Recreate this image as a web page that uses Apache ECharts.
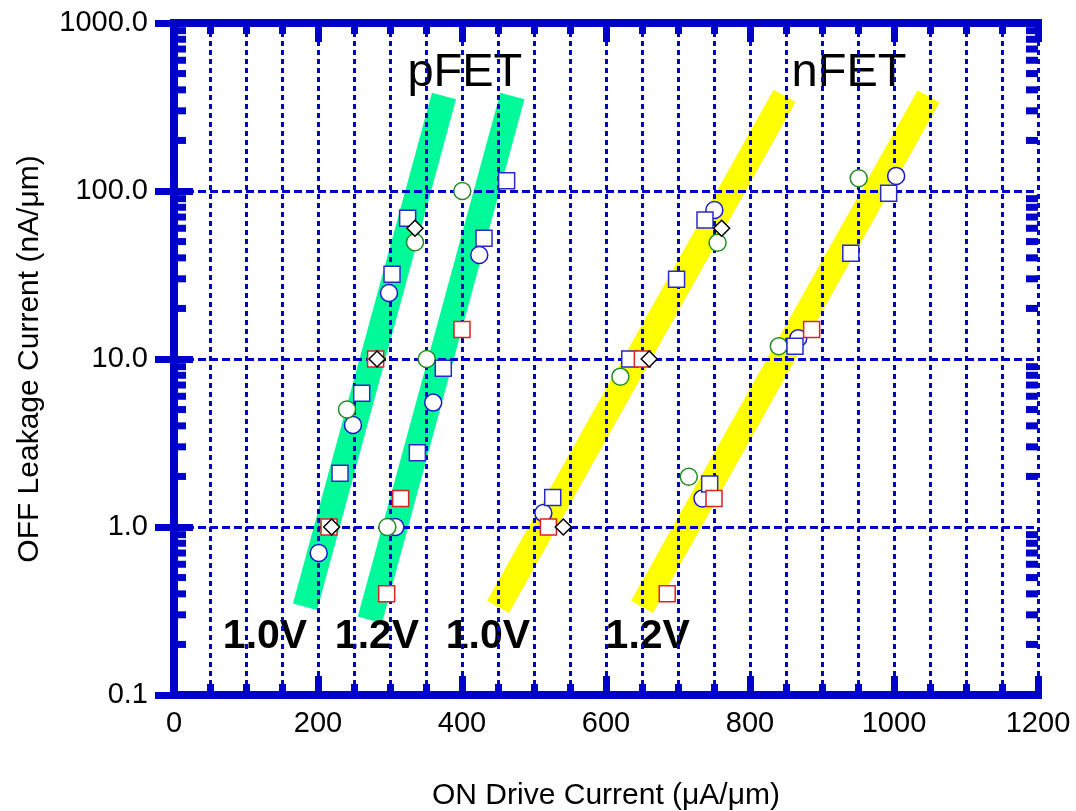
<!DOCTYPE html>
<html>
<head>
<meta charset="utf-8">
<script src="https://cdn.jsdelivr.net/npm/echarts@6/dist/echarts.min.js"></script>
<style>
  html, body { margin: 0; padding: 0; background: #ffffff; }
  #chart { width: 1076px; height: 811px; }
</style>
</head>
<body>
<div id="chart"></div>
<script>
// Axis ranges and tick labels
const xTicks = [0, 200, 400, 600, 800, 1000, 1200];
const yTicks = ['0.1', '1.0', '10.0', '100.0', '1000.0'];

// Measured devices: [ON drive current (uA/um), OFF leakage current (nA/um)]
const blueCircles = [
  [201, 0.70], [248.6, 4.05], [298.6, 24.7],
  [307.4, 1.0], [360, 5.5], [424, 41.6],
  [513, 1.21], [750.5, 77],
  [734, 1.48], [867, 13.3], [1003, 123]
];
const greenCircles = [
  [240.3, 5.0], [334.7, 49.5],
  [296.3, 1.0], [351, 10], [400.4, 100],
  [620, 7.85], [755, 49.2],
  [715, 1.99], [840, 11.9], [951, 119]
];
const blueSquares = [
  [230.6, 2.09], [260.7, 6.25], [302.8, 32], [324.5, 68.8],
  [338, 2.77], [374, 8.8], [430.6, 52.3], [462, 115],
  [526, 1.5], [633, 10], [698, 29.8], [737.5, 67.2],
  [744, 1.8], [862.5, 11.9], [940, 42.6], [992.6, 97]
];
const redSquares = [
  [215.3, 1.0], [280, 10],
  [295.4, 0.40], [314.8, 1.48], [400, 15],
  [520, 1.0], [650.5, 10],
  [685, 0.40], [750, 1.48], [885.6, 15]
];
const diamonds = [
  [219, 1.0], [282, 10], [334.7, 60],
  [540.7, 1.0], [660, 10], [760.6, 60]
];

// Trend bands (start and end of each band)
const pfet10Band = [[182, 0.335], [375, 368]];
const pfet12Band = [[272, 0.28], [470, 368]];
const nfet10Band = [[450, 0.335], [848, 368]];
const nfet12Band = [[650, 0.335], [1048, 366]];

// Annotation texts
const deviceLabels = ['pFET', 'nFET'];
const voltageLabels = ['1.0V', '1.2V', '1.0V', '1.2V'];

// Anchors of the annotations, in data units
const deviceAnchors = [[404, 504], [937.5, 504]];
const voltageAnchors = [[126.4, 0.221], [282, 0.221], [436, 0.221], [658, 0.221]];

const AXIS_BLUE = '#0000cc';
const FONT = '"Liberation Sans", Arial, Helvetica, sans-serif';

// Minor log ticks: 2..9 in every decade
const minorLogTicks = [];
for (let d = -1; d < 3; d++) {
  for (let k = 2; k <= 9; k++) minorLogTicks.push([0, k * Math.pow(10, d)]);
}

const gridDotted = { color: AXIS_BLUE, width: 3, type: [5, 4] };
const gridDashed = { color: AXIS_BLUE, width: 3, type: [8, 4] };
const axisLineStyle = { color: AXIS_BLUE, width: 8, cap: 'square' };

function bandSeries(data, color) {
  return {
    type: 'line', data: data, symbol: 'none', silent: true, z: 1,
    lineStyle: { color: color, width: 25, cap: 'butt', opacity: 1 }
  };
}

function markerSeries(data, symbol, size, color) {
  return {
    type: 'scatter', data: data, symbol: symbol, symbolSize: size, z: 5, silent: true,
    itemStyle: { color: '#ffffff', borderColor: color, borderWidth: 1.5, opacity: 1 }
  };
}

function textSeries(anchors, texts, fontSize, fontWeight) {
  return {
    type: 'scatter', symbolSize: 0, silent: true, z: 2,
    itemStyle: { opacity: 1 },
    data: anchors.map((a, i) => ({ value: a, name: texts[i] })),
    label: {
      show: true, position: 'inside', formatter: p => p.name, opacity: 1,
      color: '#000000', fontFamily: FONT, fontSize: fontSize, fontWeight: fontWeight
    }
  };
}

const chart = echarts.init(document.getElementById('chart'), null, { renderer: 'canvas' });

chart.setOption({
  animation: false,
  backgroundColor: '#ffffff',
  grid: { left: 174, right: 38, top: 23, bottom: 116, outerBoundsMode: 'none' },
  xAxis: [
    {
      type: 'value', position: 'bottom', min: xTicks[0], max: xTicks[xTicks.length - 1], interval: 200, z: 3,
      axisLine: { lineStyle: axisLineStyle },
      axisTick: { inside: true, length: 19, lineStyle: { color: AXIS_BLUE, width: 7 } },
      minorTick: { show: true, splitNumber: 4, length: 11, lineStyle: { color: AXIS_BLUE, width: 7 } },
      splitLine: { show: true, lineStyle: gridDotted },
      minorSplitLine: { show: true, lineStyle: gridDotted },
      axisLabel: { color: '#000000', fontFamily: FONT, fontSize: 29, margin: 14, formatter: v => String(v) },
      name: 'ON Drive Current (\u03bcA/\u03bcm)', nameLocation: 'middle', nameGap: 101,
      nameTextStyle: { color: '#000000', fontFamily: FONT, fontSize: 30, verticalAlign: 'middle' }
    },
    {
      type: 'value', position: 'top', min: xTicks[0], max: xTicks[xTicks.length - 1], interval: 200, z: 3,
      axisLine: { lineStyle: axisLineStyle },
      axisTick: { inside: true, length: 19, lineStyle: { color: AXIS_BLUE, width: 7 } },
      minorTick: { show: true, splitNumber: 4, length: 11, lineStyle: { color: AXIS_BLUE, width: 7 } },
      splitLine: { show: false }, minorSplitLine: { show: false },
      axisLabel: { show: false }
    }
  ],
  yAxis: [
    {
      type: 'log', logBase: 10, position: 'left', min: 0.1, max: 1000, z: 3,
      axisLine: { lineStyle: axisLineStyle },
      axisTick: { inside: true, length: 19, lineStyle: { color: AXIS_BLUE, width: 7 } },
      minorTick: { show: false },
      splitLine: { show: true, lineStyle: gridDashed },
      axisLabel: {
        color: '#000000', fontFamily: FONT, fontSize: 29, margin: 26,
        formatter: v => {
          const i = Math.round(Math.log10(v)) + 1;
          return yTicks[i] !== undefined ? yTicks[i] : '';
        }
      },
      name: 'OFF Leakage Current (nA/\u03bcm)', nameLocation: 'middle', nameGap: 144,
      nameTextStyle: { color: '#000000', fontFamily: FONT, fontSize: 30, verticalAlign: 'middle' }
    },
    {
      type: 'log', logBase: 10, position: 'right', min: 0.1, max: 1000, z: 3,
      axisLine: { lineStyle: axisLineStyle },
      axisTick: { inside: true, length: 19, lineStyle: { color: AXIS_BLUE, width: 7 } },
      minorTick: { show: false },
      splitLine: { show: false },
      axisLabel: { show: false }
    }
  ],
  series: [
    bandSeries(pfet10Band, '#00fa9a'),
    bandSeries(pfet12Band, '#00fa9a'),
    bandSeries(nfet10Band, '#ffff00'),
    bandSeries(nfet12Band, '#ffff00'),
    textSeries(deviceAnchors, deviceLabels, 47, 'normal'),
    textSeries(voltageAnchors, voltageLabels, 41, 'bold'),
    {
      // minor log ticks on the left and right frame
      type: 'custom', data: minorLogTicks, z: 4, silent: true,
      renderItem: (params, api) => {
        const v = api.value(1);
        const left = api.coord([0, v]);
        const right = api.coord([1200, v]);
        const style = { fill: AXIS_BLUE };
        return {
          type: 'group',
          children: [
            { type: 'rect', shape: { x: left[0], y: left[1] - 3.5, width: 12, height: 7 }, style: style },
            { type: 'rect', shape: { x: right[0] - 12, y: right[1] - 3.5, width: 12, height: 7 }, style: style }
          ]
        };
      }
    },
    markerSeries(blueCircles, 'circle', 17, '#1a1acc'),
    markerSeries(greenCircles, 'circle', 17, '#228b22'),
    markerSeries(blueSquares, 'rect', 16, '#2a2acc'),
    markerSeries(redSquares, 'rect', 16, '#dd2222'),
    markerSeries(diamonds, 'diamond', 16, '#000000')
  ]
});
</script>
</body>
</html>
